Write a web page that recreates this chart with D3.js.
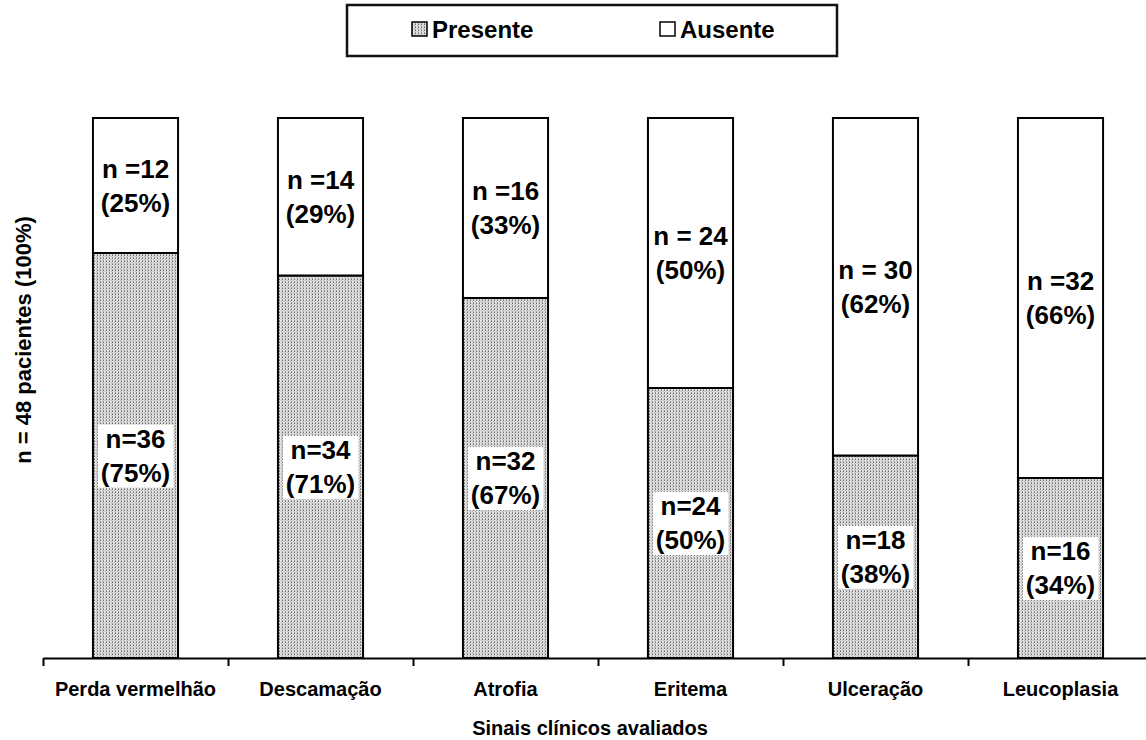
<!DOCTYPE html>
<html>
<head>
<meta charset="utf-8">
<script src="https://cdn.jsdelivr.net/npm/d3@7"></script>
<style>
  html, body { margin: 0; padding: 0; background: #fff; }
  svg { display: block; font-family: "Liberation Sans", Arial, sans-serif; font-weight: bold; }
</style>
</head>
<body>
<svg id="chart" width="1146" height="740"></svg>
<script>
// Clinical signs evaluated in 48 patients
const categories = ["Perda vermelhão", "Descamação", "Atrofia", "Eritema", "Ulceração", "Leucoplasia"];
const presente = [36, 34, 32, 24, 18, 16];
const ausente = [12, 14, 16, 24, 30, 32];
const presentePct = ["75%", "71%", "67%", "50%", "38%", "34%"];
const ausentePct = ["25%", "29%", "33%", "50%", "62%", "66%"];
const presentePrefix = ["n=", "n=", "n=", "n=", "n=", "n="];
const ausentePrefix = ["n =", "n =", "n =", "n = ", "n = ", "n ="];
const yTicks = [0, 48];
const legendItems = ["Presente", "Ausente"];

const svg = d3.select("#chart");

// Stippled fill for the "Presente" segments
const defs = svg.append("defs");
const pat = defs.append("pattern")
  .attr("id", "stipple")
  .attr("patternUnits", "userSpaceOnUse")
  .attr("width", 3).attr("height", 3)
  .attr("shape-rendering", "crispEdges");
pat.append("rect").attr("width", 3).attr("height", 3).attr("fill", "#e0e0e0");
pat.append("rect").attr("x", 1).attr("y", 0).attr("width", 1).attr("height", 1).attr("fill", "#666");
pat.append("rect").attr("x", 1).attr("y", 2).attr("width", 1).attr("height", 1).attr("fill", "#999");
pat.append("rect").attr("x", 0).attr("y", 1).attr("width", 1).attr("height", 1).attr("fill", "#b4b4b4");

const x = d3.scaleBand().domain(categories).range([43, 1153]).padding(0);
const xEdge = d3.scaleLinear().domain([0, categories.length]).range([43, 1153]);
const y = d3.scaleLinear().domain(d3.extent(yTicks)).range([658, 118]);
const barW = x.bandwidth() * 0.46;

const rows = categories.map((c, i) => ({
  cat: c,
  p: presente[i], a: ausente[i],
  pLab: [presentePrefix[i] + presente[i], "(" + presentePct[i] + ")"],
  aLab: [ausentePrefix[i] + ausente[i], "(" + ausentePct[i] + ")"]
}));

const bars = svg.append("g");
const g = bars.selectAll("g.bar").data(rows).join("g").attr("class", "bar")
  .attr("transform", d => `translate(${x(d.cat) + (x.bandwidth() - barW) / 2},0)`);

// Presente segment (bottom)
g.append("rect")
  .attr("x", 0).attr("width", barW)
  .attr("y", d => y(d.p)).attr("height", d => y(0) - y(d.p))
  .attr("fill", "url(#stipple)").attr("stroke", "#000").attr("stroke-width", 2);

// Ausente segment (top)
g.append("rect")
  .attr("x", 0).attr("width", barW)
  .attr("y", d => y(d.p + d.a)).attr("height", d => y(d.p) - y(d.p + d.a))
  .attr("fill", "#fff").attr("stroke", "#000").attr("stroke-width", 2);

const fs = 26, lh = 34;
function addLabel(sel, linesFn, midFn, boxed) {
  const lg = sel.append("g");
  const t = lg.append("text")
    .attr("text-anchor", "middle")
    .attr("font-size", fs)
    .attr("fill", "#000");
  t.each(function(d) {
    const lines = linesFn(d);
    const mid = midFn(d);
    const el = d3.select(this);
    lines.forEach((s, k) => {
      el.append("tspan")
        .attr("x", barW / 2)
        .attr("y", mid + (k - (lines.length - 1) / 2) * lh)
        .attr("dy", "0.35em")
        .text(s);
    });
  });
  if (boxed) {
    lg.each(function() {
      const b = d3.select(this).select("text").node().getBBox();
      d3.select(this).insert("rect", "text")
        .attr("x", b.x - 3).attr("y", b.y + 1)
        .attr("width", b.width + 6).attr("height", b.height - 1)
        .attr("fill", "#fff");
    });
  }
}
addLabel(g, d => d.pLab, d => (y(0) + y(d.p)) / 2, true);
addLabel(g, d => d.aLab, d => (y(d.p) + y(d.p + d.a)) / 2, false);

// X axis with ticks on category boundaries
const axis = d3.axisBottom(xEdge)
  .tickValues(d3.range(categories.length + 1))
  .tickSize(8).tickSizeOuter(0).tickFormat("");
const ax = svg.append("g").attr("transform", `translate(0,${y(0)})`).call(axis);
ax.select(".domain").attr("stroke", "#000").attr("stroke-width", 2);
ax.selectAll(".tick line").attr("stroke", "#000").attr("stroke-width", 2);

svg.append("g").selectAll("text").data(categories).join("text")
  .attr("x", d => x(d) + x.bandwidth() / 2)
  .attr("y", 696)
  .attr("text-anchor", "middle")
  .attr("font-size", 20)
  .text(d => d);

// Axis titles
svg.append("text")
  .attr("x", 590).attr("y", 735)
  .attr("text-anchor", "middle").attr("font-size", 20)
  .text("Sinais clínicos avaliados");

svg.append("text")
  .attr("transform", "translate(31,340) rotate(-90)")
  .attr("text-anchor", "middle").attr("font-size", 22)
  .text("n = " + d3.max(yTicks) + " pacientes (100%)");

// Legend
const leg = svg.append("g");
leg.append("rect").attr("x", 347).attr("y", 5).attr("width", 490).attr("height", 51)
  .attr("fill", "#fff").attr("stroke", "#111").attr("stroke-width", 2.5);
const legX = [412, 660];
const legFill = ["url(#stipple)", "#fff"];
legendItems.forEach((name, i) => {
  leg.append("rect").attr("x", legX[i]).attr("y", 22).attr("width", 15).attr("height", 14)
    .attr("fill", legFill[i]).attr("stroke", "#000").attr("stroke-width", 1.5);
  leg.append("text").attr("x", legX[i] + 20).attr("y", 38)
    .attr("font-size", 24).text(name);
});
</script>
</body>
</html>
